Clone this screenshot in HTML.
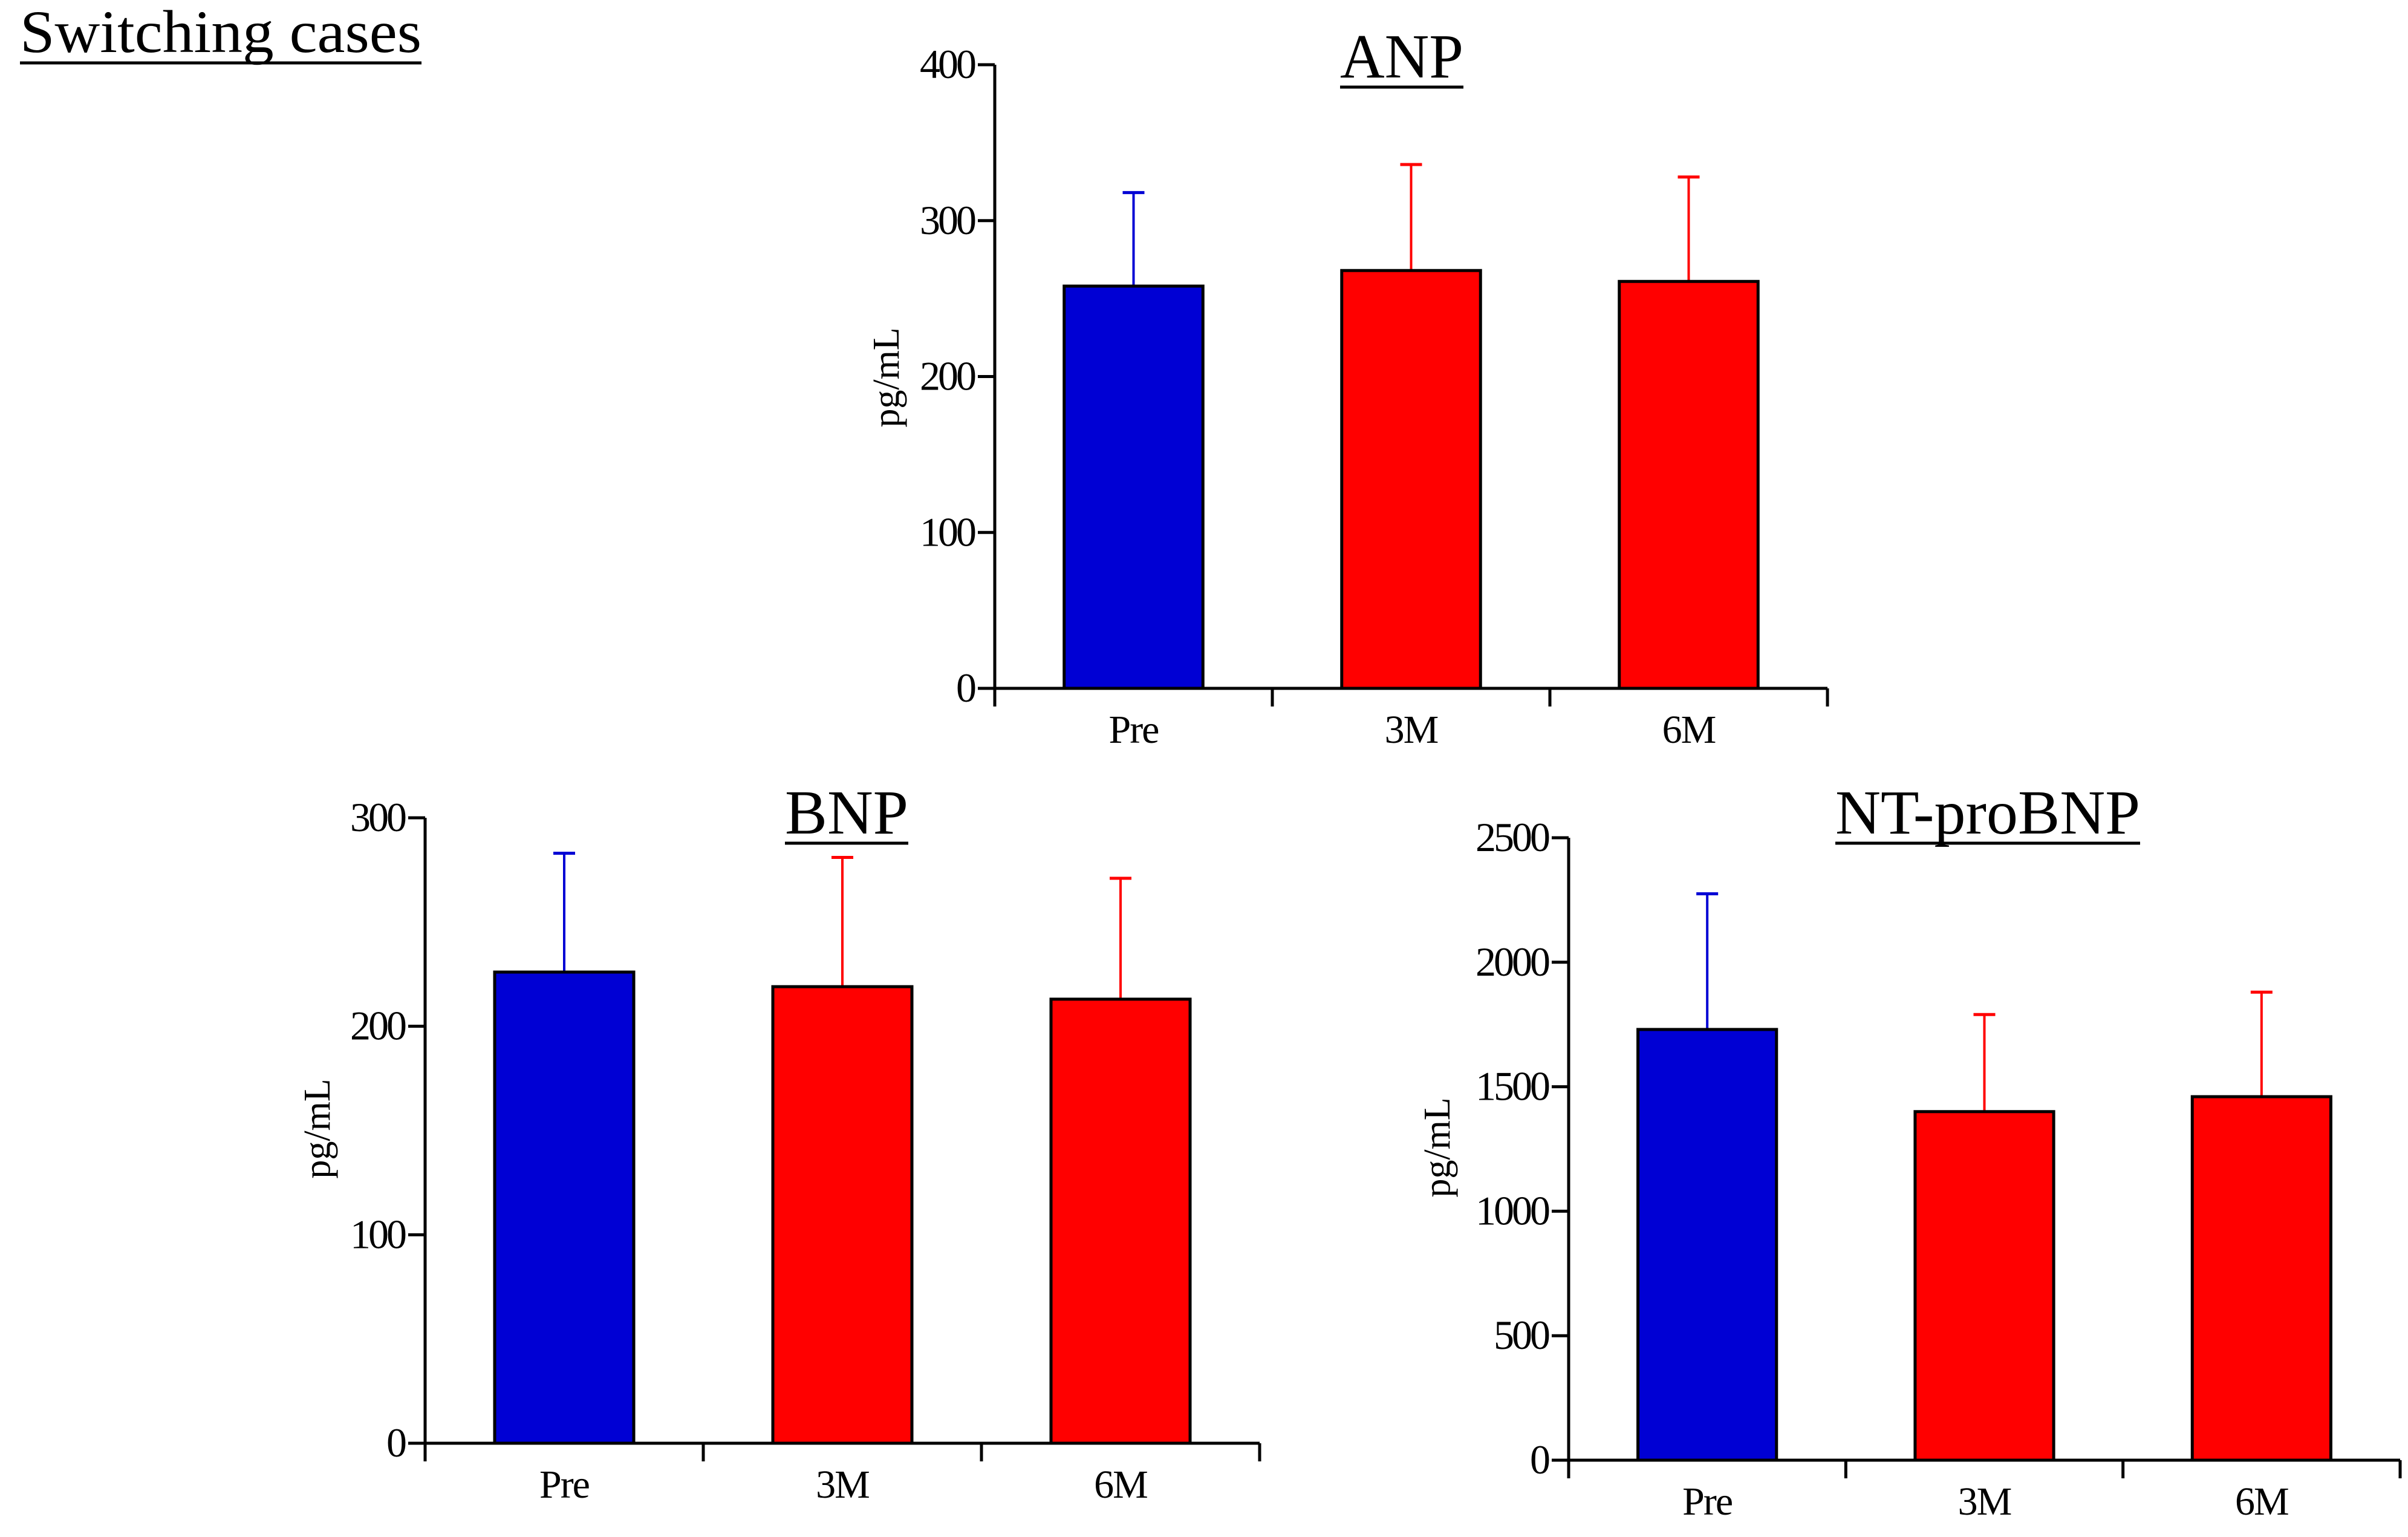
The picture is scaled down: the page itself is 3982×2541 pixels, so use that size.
<!DOCTYPE html>
<html><head><meta charset="utf-8"><style>
html,body{margin:0;padding:0;background:#fff;}
svg{display:block;font-family:"Liberation Serif",serif;}
</style></head><body>
<svg id="fig" width="3982" height="2541" viewBox="0 0 3982 2541" xmlns="http://www.w3.org/2000/svg">
<text x="33" y="86" font-size="100" textLength="664" lengthAdjust="spacingAndGlyphs">Switching cases</text>
<line x1="33" y1="104" x2="697" y2="104" stroke="#000" stroke-width="5"/>
</svg>
<script>
const categories = ["Pre", "3M", "6M"];
const anpMeans = [258, 268, 261];
const anpUpper = [318, 336, 328];
const anpTicks = [0, 100, 200, 300, 400];
const bnpMeans = [226, 219, 213];
const bnpUpper = [283, 281, 271];
const bnpTicks = [0, 100, 200, 300];
const ntMeans = [1730, 1400, 1460];
const ntUpper = [2275, 1790, 1880];
const ntTicks = [0, 500, 1000, 1500, 2000, 2500];
const barColors = ["#0000d4", "#ff0000", "#ff0000"];

const NS = "http://www.w3.org/2000/svg";
const svg = document.getElementById("fig");
function mk(tag, attrs, parent) {
  const e = document.createElementNS(NS, tag);
  for (const k in attrs) e.setAttribute(k, attrs[k]);
  parent.appendChild(e);
  return e;
}
function chart(cfg) {
  const g = mk("g", {}, svg);
  
  
  const ymax = cfg.ticks[cfg.ticks.length - 1];
  const y = v => cfg.y0 - (v / ymax) * (cfg.y0 - cfg.yTop);
  const band = (cfg.xR - cfg.x0) / categories.length;
  const xc = i => cfg.x0 + band * (i + 0.5);
  const bw = band * 0.5;
  cfg.means.forEach((m, i) => {
    const col = barColors[i];
    const eb = mk("line", {x1: xc(i), x2: xc(i), y1: y(m), y2: y(cfg.upper[i]), stroke: col, "stroke-width": 4}, g);
    
    
    const cap = mk("line", {x1: xc(i) - 18, x2: xc(i) + 18, y1: y(cfg.upper[i]), y2: y(cfg.upper[i]), stroke: col, "stroke-width": 5}, g);
    
    
    const r = mk("rect", {x: xc(i) - bw / 2, y: y(m), width: bw, height: cfg.y0 - y(m), fill: col, stroke: "#000", "stroke-width": 5}, g);
    
    
  });
  const ya = mk("line", {x1: cfg.x0, x2: cfg.x0, y1: cfg.yTop, y2: cfg.y0 + 30, stroke: "#000", "stroke-width": 5}, g);
  
  
  const xa = mk("line", {x1: cfg.x0 - 28, x2: cfg.xR, y1: cfg.y0, y2: cfg.y0, stroke: "#000", "stroke-width": 5}, g);
  
  
  for (let i = 0; i <= categories.length; i++) {
    const tx = cfg.x0 + band * i;
    const t = mk("line", {x1: tx, x2: tx, y1: cfg.y0, y2: cfg.y0 + 30, stroke: "#000", "stroke-width": 5}, g);
    
    
  }
  categories.forEach((c, i) => {
    const t = mk("text", {x: xc(i), y: cfg.y0 + 90, "font-size": 66, "text-anchor": "middle", "letter-spacing": -2}, g);
    t.textContent = c;
    
    
  });
  cfg.ticks.forEach(v => {
    const tl = mk("line", {x1: cfg.x0 - 28, x2: cfg.x0, y1: y(v), y2: y(v), stroke: "#000", "stroke-width": 5}, g);
    
    
    const t = mk("text", {x: cfg.x0 - 34, y: y(v) + 22, "font-size": 68, "text-anchor": "end", "letter-spacing": -4}, g);
    t.textContent = v;
    
    
  });
  const yl = mk("text", {x: 0, y: 0, "font-size": 62, "text-anchor": "middle", transform: `translate(${cfg.ylx},${cfg.yly}) rotate(-90)`}, g);
  yl.textContent = "pg/mL";
  
  
  const ti = mk("text", {x: cfg.tx, y: cfg.ty, "font-size": 104, "text-anchor": "middle", textLength: cfg.tw, lengthAdjust: "spacingAndGlyphs"}, g);
  ti.textContent = cfg.title;
  
  
  const ul = mk("line", {x1: cfg.tx - cfg.tw / 2, x2: cfg.tx + cfg.tw / 2, y1: cfg.ty + 16, y2: cfg.ty + 16, stroke: "#000", "stroke-width": 5}, g);
  
  
}
chart({name: "anp", title: "ANP", means: anpMeans, upper: anpUpper, ticks: anpTicks,
  x0: 1645, xR: 3022, y0: 1138, yTop: 107, ylx: 1486, yly: 624, tx: 2318, ty: 128, tw: 204});
chart({name: "bnp", title: "BNP", means: bnpMeans, upper: bnpUpper, ticks: bnpTicks,
  x0: 703, xR: 2083, y0: 2386, yTop: 1352, ylx: 545, yly: 1866, tx: 1400, ty: 1378, tw: 204});
chart({name: "ntprobnp", title: "NT-proBNP", means: ntMeans, upper: ntUpper, ticks: ntTicks,
  x0: 2594, xR: 3969, y0: 2414, yTop: 1385, ylx: 2397, yly: 1897, tx: 3287, ty: 1378, tw: 504});
</script>
</body></html>
